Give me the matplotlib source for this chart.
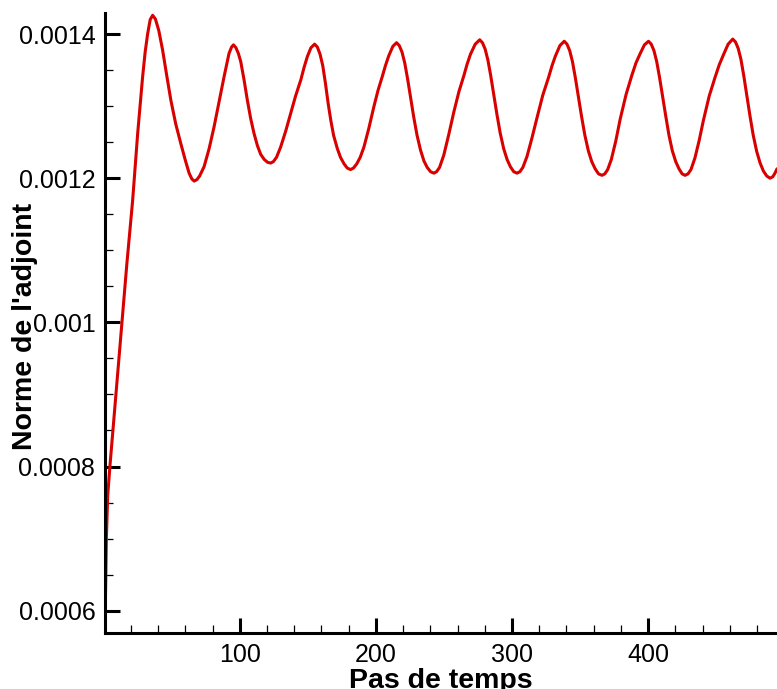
import matplotlib
matplotlib.use("Agg")
import matplotlib.pyplot as plt
from matplotlib.ticker import MultipleLocator

# time step / adjoint norm
steps = [
    1, 2, 3, 4.6, 9, 13.4, 17, 21.3, 25, 28.6, 30.5, 32.3, 34.2, 36,
    38, 40.5, 43.3, 46.3, 49.4, 53, 56.7, 60, 62.8, 64.8, 66.5,
    68.5, 70.5, 73.8, 77.5, 81.1, 84.8, 88.5, 92.1, 94, 95.4,
    97.2, 99, 100.7, 103.2, 105.6, 108, 110.5, 113, 115.4, 118, 120.5, 122.7,
    124.7, 127, 130, 133.7, 137.4, 141, 144.8, 147.3, 149.7, 152.3, 155,
    157, 159, 161, 163, 165, 167, 169, 171.7, 174, 176.6, 179, 181.4,
    183.5, 186, 188.5, 191.2, 194.8, 198.5, 201.6, 204.7, 207, 209.5, 212.5, 215.2,
    217.2, 219.2, 221.2, 223.3, 225.5, 227.8, 230.2, 232.8, 235.3, 237.7, 240.2, 242.6,
    244.6, 246.8, 249.9, 253.6, 257.3, 261, 264.6, 267, 269.5, 273, 276.3,
    278.3, 280.3, 282.3, 284.4, 286.6, 288.9, 291.3, 293.9, 296.4, 298.8, 301.3, 303.7,
    305.8, 308, 311, 314.7, 318.4, 322.6, 326.9, 329.4, 331.8, 335.2, 338.4,
    340.4, 342.4, 344.4, 346.5, 348.7, 351, 353.5, 356.1, 358.6, 361.1, 363.6, 366.1,
    368.2, 370.3, 373, 376.3, 379.5, 383.8, 388.1, 391.1, 394.2, 397.3, 400.3,
    402.3, 404.3, 406.3, 408.4, 410.6, 412.9, 415.3, 417.8, 420.3, 422.7, 425, 427.2,
    429.3, 431.5, 434.4, 437.6, 440.6, 444.9, 449.2, 452.2, 455.3, 458.8, 462.2,
    464.2, 466.2, 468.2, 470.3, 472.5, 474.8, 477.2, 479.8, 482.3, 484.7, 487.2, 489.6,
    491.6, 493.2, 494.7,
]
norm = [
    0.000575, 0.00070, 0.00076, 0.00080, 0.00090, 0.001000, 0.001080, 0.001169,
    0.001262, 0.001340, 0.001375, 0.001400, 0.001420, 0.001426,
    0.001421, 0.001405, 0.001378, 0.001343, 0.001308, 0.001275, 0.001248, 0.001225,
    0.001207, 0.001199, 0.001196,
    0.001198, 0.001203, 0.001216, 0.001241, 0.001271, 0.001306, 0.001341, 0.001373,
    0.001382, 0.001385,
    0.001381, 0.001373, 0.001362, 0.001336, 0.001308, 0.001283, 0.001262, 0.001245,
    0.001233, 0.001226, 0.001222, 0.001221,
    0.001223, 0.001229, 0.001243, 0.001265, 0.001290, 0.001314, 0.001336, 0.001354,
    0.001369, 0.001381, 0.001386,
    0.001382, 0.001372, 0.001356, 0.001331, 0.001303, 0.001279, 0.001259, 0.001241,
    0.001229, 0.001220, 0.001214, 0.001212,
    0.001214, 0.001220, 0.001229, 0.001243, 0.001269, 0.001299, 0.001322, 0.001341,
    0.001356, 0.001370, 0.001383, 0.001388,
    0.001384, 0.001375, 0.001360, 0.001338, 0.001312, 0.001285, 0.001260, 0.001239,
    0.001224, 0.001215, 0.001209, 0.001207,
    0.001209, 0.001215, 0.001232, 0.001261, 0.001292, 0.001320, 0.001342, 0.001358,
    0.001372, 0.001386, 0.001392,
    0.001388, 0.001379, 0.001364, 0.001342, 0.001316, 0.001289, 0.001263, 0.001241,
    0.001226, 0.001216, 0.001209, 0.001207,
    0.001209, 0.001215, 0.001230, 0.001256, 0.001284, 0.001315, 0.001340, 0.001356,
    0.001369, 0.001384, 0.001390,
    0.001386, 0.001377, 0.001362, 0.001340, 0.001314, 0.001287, 0.001260, 0.001238,
    0.001223, 0.001213, 0.001206, 0.001204,
    0.001206, 0.001212, 0.001226, 0.001252, 0.001282, 0.001316, 0.001343, 0.001360,
    0.001373, 0.001385, 0.001390,
    0.001386, 0.001377, 0.001362, 0.001340, 0.001314, 0.001287, 0.001260, 0.001238,
    0.001223, 0.001213, 0.001206, 0.001204,
    0.001206, 0.001212, 0.001228, 0.001253, 0.001280, 0.001314, 0.001340, 0.001357,
    0.001371, 0.001386, 0.001393,
    0.001389, 0.001380, 0.001365, 0.001342, 0.001315, 0.001287, 0.001260, 0.001237,
    0.001221, 0.001210, 0.001203, 0.001200,
    0.001202, 0.001207, 0.001213,
]

plt.rcParams['font.family'] = ['Liberation Sans', 'DejaVu Sans']

fig = plt.figure(figsize=(7.77, 6.89), dpi=100)
ax = fig.add_axes([105 / 777, 56 / 689, 672 / 777, 620 / 689])

ax.plot(steps, norm, color='#d90000', linewidth=2.2,
        solid_joinstyle='round', solid_capstyle='round')

ax.set_xlim(1, 494.7)
ax.set_ylim(0.000569, 0.0014292)

ax.xaxis.set_major_locator(MultipleLocator(100))
ax.xaxis.set_minor_locator(MultipleLocator(20))
ax.yaxis.set_minor_locator(MultipleLocator(0.00005))
ax.set_yticks([0.0006, 0.0008, 0.001, 0.0012, 0.0014])
ax.set_yticklabels(['0.0006', '0.0008', '0.001', '0.0012', '0.0014'])

ax.tick_params(which='major', direction='in', length=11, width=2.2,
               labelsize=18, pad=7)
ax.tick_params(which='minor', direction='in', length=6, width=0.9)

for side in ['top', 'right']:
    ax.spines[side].set_visible(False)
for side in ['left', 'bottom']:
    ax.spines[side].set_linewidth(2.2)

ax.set_xlabel('Pas de temps', fontsize=20.5, fontweight='bold')
ax.set_ylabel("Norme de l'adjoint", fontsize=20.5, fontweight='bold')
ax.xaxis.set_label_coords(0.5, -0.056)
ax.yaxis.set_label_coords(-0.099, 0.495)

fig.savefig('out.png', dpi=100)
